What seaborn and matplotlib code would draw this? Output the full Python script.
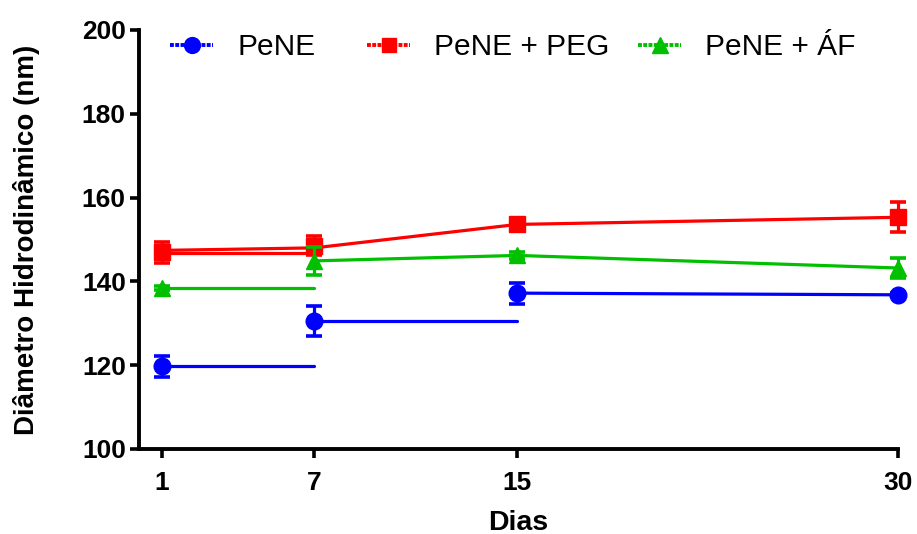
import numpy as np
import pandas as pd
import matplotlib
matplotlib.use("Agg")
import matplotlib.pyplot as plt
from matplotlib.lines import Line2D
import seaborn as sns

# ---- data ----
days = [1, 7, 15, 30]
series_names = ["PeNE", "PeNE + PEG", "PeNE + ÁF"]

pene_mean = [119.7, 130.5, 137.2, 136.8]
pene_err = [2.5, 3.6, 2.5, 0.5]
peg_mean = [146.9, 148.5, 153.6, 155.3]
peg_err = [2.6, 2.3, 0.8, 3.6]
af_mean = [138.4, 144.9, 146.2, 143.2]
af_err = [0.5, 3.4, 0.8, 2.5]

# connecting line segments as drawn in the original (segment id, day, value)
pene_seg = [0, 0, 1, 1, 2, 2]
pene_line_x = [1, 7, 7, 15, 15, 30]
pene_line_y = [119.7, 119.7, 130.5, 130.5, 137.2, 136.8]
peg_seg = [0, 0, 1, 1, 1, 1]
peg_line_x = [1, 7, 1, 7, 15, 30]
peg_line_y = [146.7, 146.7, 147.4, 148.0, 153.6, 155.3]
af_seg = [0, 0, 1, 1, 1]
af_line_x = [1, 7, 7, 15, 30]
af_line_y = [138.4, 138.4, 144.9, 146.2, 143.2]

colors = {"PeNE": "#0000FF", "PeNE + PEG": "#FF0000", "PeNE + ÁF": "#00C000"}
markers = {"PeNE": "o", "PeNE + PEG": "s", "PeNE + ÁF": "^"}
msizes = {"PeNE": 12, "PeNE + PEG": 11, "PeNE + ÁF": 12}

sns.set_style("ticks")
plt.rcParams["font.family"] = ["Liberation Sans", "DejaVu Sans"]
plt.rcParams["text.color"] = "black"
plt.rcParams["axes.labelcolor"] = "black"

fig = plt.figure(figsize=(9.17, 5.34), dpi=100)
ax = fig.add_axes([139/917, 1-449/534, (898-139)/917, (449-30)/534])

lines = {
    "PeNE + PEG": (peg_seg, peg_line_x, peg_line_y, peg_mean, peg_err),
    "PeNE + ÁF": (af_seg, af_line_x, af_line_y, af_mean, af_err),
    "PeNE": (pene_seg, pene_line_x, pene_line_y, pene_mean, pene_err),
}

z = 3
for name in ["PeNE + PEG", "PeNE + ÁF", "PeNE"]:
    seg, lx, ly, m, e = lines[name]
    df = pd.DataFrame({"seg": seg, "day": lx, "value": ly})
    sns.lineplot(data=df, x="day", y="value", units="seg", estimator=None,
                 sort=False, color=colors[name], lw=2.3, ax=ax, legend=False,
                 zorder=z, clip_on=False)
    ax.errorbar(days, m, yerr=e, fmt=markers[name], color=colors[name],
                ms=msizes[name], elinewidth=2.3, capsize=5.5, capthick=2.6,
                zorder=z + 0.5, clip_on=False)
    z += 1

ax.set_xlim(0.094, 30)
ax.set_ylim(100, 200)
ax.set_xticks(days)
ax.set_xticklabels([str(d) for d in days])
ax.set_yticks([100, 120, 140, 160, 180, 200])

for sp in ["top", "right"]:
    ax.spines[sp].set_visible(False)
for sp in ["left", "bottom"]:
    ax.spines[sp].set_linewidth(2.8)
    ax.spines[sp].set_color("black")
ax.tick_params(axis="both", width=2.6, length=6.5, color="black",
               labelsize=19, labelcolor="black")
ax.tick_params(axis="y", pad=3)
ax.tick_params(axis="x", pad=9)
for lab in ax.get_xticklabels() + ax.get_yticklabels():
    lab.set_fontweight("bold")

ax.set_xlabel("Dias", fontsize=20.5, fontweight="bold", labelpad=11, color="black")
ax.set_ylabel("Diâmetro Hidrodinâmico (nm)", fontsize=20, fontweight="bold", color="black")
ax.yaxis.set_label_coords(-0.130, 0.5)

# legends, one per entry
leg_x = {"PeNE": 170, "PeNE + PEG": 367, "PeNE + ÁF": 638}
for name in series_names:
    h = Line2D([], [], color=colors[name], lw=2.8, linestyle=(0, (1.0, 0.35)),
               marker=markers[name], ms=msizes[name] * 0.95)
    leg = fig.legend([h], [name], loc="center left",
                     bbox_to_anchor=(leg_x[name]/917, 1-47/534),
                     bbox_transform=fig.transFigure, frameon=False,
                     fontsize=21.5, handlelength=1.45, handletextpad=0.8,
                     borderpad=0, borderaxespad=0, numpoints=1,
                     labelcolor="black")

fig.savefig("out.png", dpi=100)
